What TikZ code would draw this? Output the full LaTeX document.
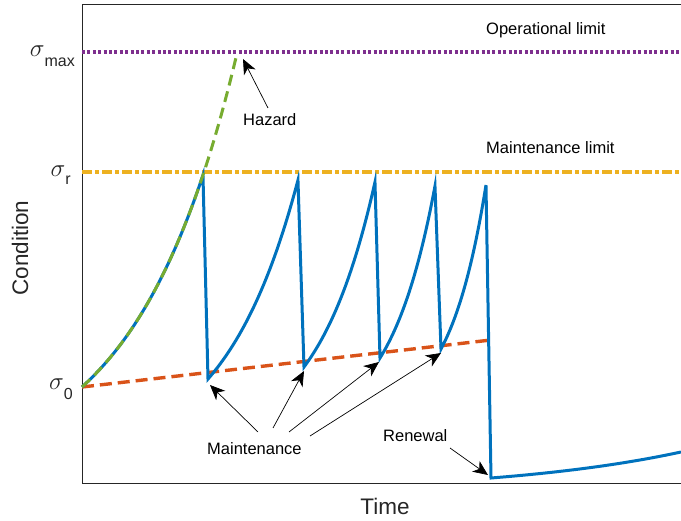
\documentclass[tikz,border=0pt]{standalone}
\usepackage{fontspec}
\setmainfont{Liberation Sans}
\usetikzlibrary{arrows.meta}

\definecolor{axisgray}{HTML}{262626}
\definecolor{condblue}{rgb}{0,0.447,0.741}
\definecolor{baseorange}{rgb}{0.85,0.325,0.098}
\definecolor{limityellow}{rgb}{0.929,0.694,0.125}
\definecolor{limitpurple}{rgb}{0.494,0.184,0.556}
\definecolor{hazgreen}{rgb}{0.466,0.674,0.188}

\tikzset{
  axisline/.style={draw=axisgray, line width=0.8pt},
  condline/.style={draw=condblue, line width=3pt},
  baseline/.style={draw=baseorange, line width=3.4pt, dash pattern=on 12pt off 6pt},
  maintlimit/.style={draw=limityellow, line width=3.4pt, dash pattern=on 10pt off 3pt on 4pt off 3pt},
  oplimit/.style={draw=limitpurple, line width=3.2pt, dash pattern=on 3pt off 2.4pt},
  hazline/.style={draw=hazgreen, line width=3pt, dash pattern=on 11pt off 6pt},
  annot/.style={draw=black, line width=0.7pt, -{Stealth[length=15pt,width=13pt,inset=4.5pt]}},
  lbl/.style={font=\fontsize{16.5}{16.5}\selectfont, inner sep=0pt},
  axlbl/.style={font=\fontsize{22.5}{22.5}\selectfont, text=axisgray, inner sep=0pt},
  ticklbl/.style={inner sep=0pt, text=axisgray, anchor=base east}
}

\newcommand{\sigmalabel}[2]{{\fontsize{24}{24}\selectfont$\sigma$}\raisebox{#2}{\fontsize{16}{16}\selectfont #1}}

\begin{document}
\begin{tikzpicture}[x=1pt, y=-1pt]
\useasboundingbox (0,0) rectangle (681,521);

% axes frame
\draw[axisline] (681,4) -- (82,4) -- (82,483) -- (681,483);

% limits
\draw[oplimit] (82,52) -- (681,52);
\draw[maintlimit] (82,172) -- (681,172);

% baseline condition after maintenance
\draw[baseline] (82,387) -- (491,340);

% condition history
\draw[condline]
  plot[domain=0:1, samples=40] ({82+121*\x},{387-212*(exp(1.2*\x)-1)/2.3201})
  -- plot[domain=0:1, samples=30] ({208+90*\x},{379-199*(exp(1.2*\x)-1)/2.3201})
  -- plot[domain=0:1, samples=30] ({304+71*\x},{367-185*(exp(1.2*\x)-1)/2.3201})
  -- plot[domain=0:1, samples=30] ({380+55*\x},{358-172*(exp(1.2*\x)-1)/2.3201})
  -- plot[domain=0:1, samples=30] ({441+45*\x},{349-164*(exp(1.2*\x)-1)/2.3201})
  -- plot[domain=0:1, samples=40] ({491+190*\x},{478-26*(exp(1.0*\x)-1)/1.71828});

% unmaintained deterioration
\draw[hazline] plot[domain=0:1.283, samples=50] ({82+121*\x},{387-212*(exp(1.2*\x)-1)/2.3201});

% tick labels
\node[ticklbl] (smax) at (75,57) {\sigmalabel{max}{-10pt}};
\node[ticklbl] (sr) at (71,177) {\sigmalabel{r}{-8pt}};
\node[ticklbl] (s0) at (73,390) {\sigmalabel{0}{-10pt}};

% axis labels
\node[axlbl, anchor=base] (time) at (385,515) {Time};
\node[axlbl, anchor=base, rotate=90] (cond) at (28,248) {Condition};

% annotations
\node[lbl, anchor=base west] (oplbl) at (486,35) {Operational limit};
\node[lbl, anchor=base west] (mllbl) at (486,154) {Maintenance limit};
\node[lbl, anchor=base west] (hazlbl) at (243,126) {Hazard};
\node[lbl, anchor=base west] (maintlbl) at (207,455) {Maintenance};
\node[lbl, anchor=base west] (renlbl) at (383,442) {Renewal};

\coordinate (haztail) at (268,108);
\coordinate (haztip) at (243,59);
\draw[annot] (haztail) -- (haztip);

\coordinate (mt1) at (258,432);
\coordinate (mt2) at (273,428);
\coordinate (mt3) at (289,432);
\coordinate (mt4) at (310,436);
\coordinate (mp1) at (210,385);
\coordinate (mp2) at (304,371);
\coordinate (mp3) at (379,362);
\coordinate (mp4) at (441,353);
\draw[annot] (mt1) -- (mp1);
\draw[annot] (mt2) -- (mp2);
\draw[annot] (mt3) -- (mp3);
\draw[annot] (mt4) -- (mp4);

\coordinate (rentail) at (450,448);
\coordinate (rentip) at (488,475);
\draw[annot] (rentail) -- (rentip);
\end{tikzpicture}
\end{document}
